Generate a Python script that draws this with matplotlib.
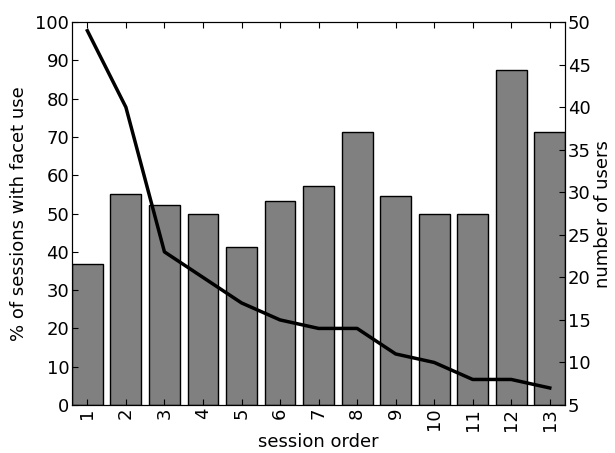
import numpy as np
import matplotlib
matplotlib.use("Agg")
from matplotlib import pyplot as plt

sessions = list(range(1, 14))
pct_facet = [36.8, 55.1, 52.2, 50.0, 41.2, 53.3, 57.1, 71.4, 54.5, 50.0, 50.0, 87.5, 71.4]
num_users = [49, 40, 23, 20, 17, 15, 14, 14, 11, 10, 8, 8, 7]

plt.rcParams['font.family'] = 'DejaVu Sans'
plt.rcParams['font.size'] = 13

fig = plt.figure(figsize=(6.15, 4.53), dpi=100)
ax = fig.add_axes([0.117, 0.106, 0.802, 0.845])

ax.bar(sessions, pct_facet, width=0.8, color="#808080", edgecolor="black", linewidth=1)
ax.set_xlim(0.6, 13.4)
ax.set_ylim(0, 100)
ax.set_yticks(np.arange(0, 101, 10))
ax.set_xticks(sessions)
ax.set_xticklabels([str(s) for s in sessions], rotation=90)
ax.set_xlabel("session order", labelpad=2)
ax.set_ylabel("% of sessions with facet use", labelpad=5)
ax.tick_params(direction="in", length=4, pad=2, top=True, right=False)

ax2 = ax.twinx()
ax2.plot(sessions, num_users, color="black", linewidth=2.5)
ax2.set_ylim(5, 50)
ax2.set_yticks(np.arange(5, 51, 5))
ax2.set_ylabel("number of users", labelpad=2)
ax2.tick_params(direction="in", length=4, pad=2)

fig.savefig("out.png", dpi=100)
